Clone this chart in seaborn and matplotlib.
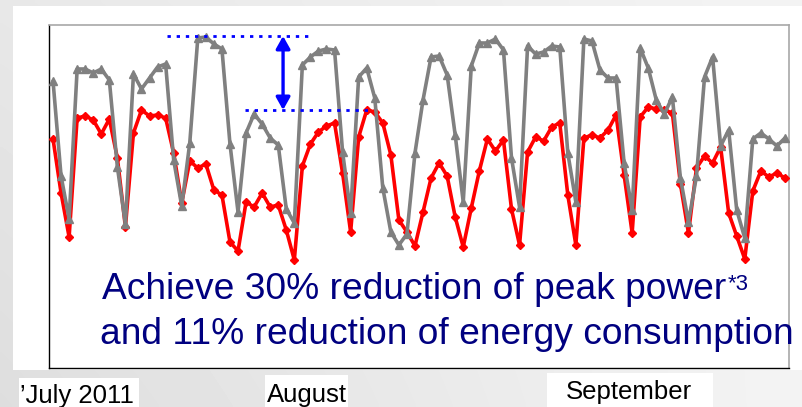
import numpy as np
import pandas as pd
import matplotlib
matplotlib.use("Agg")
import matplotlib.pyplot as plt
import seaborn as sns
from matplotlib.patches import Rectangle

# ---------------- data (relative power, arbitrary units) ----------------
days = list(range(92))  # 1 July 2011 .. 30 September 2011

power_2010 = [287, 192, 149, 299, 299, 295, 299, 288, 201, 144, 294, 279, 290, 301, 304, 208,
              162, 225, 330, 331, 324, 319, 224, 156, 235, 254, 244, 230, 223, 159, 145, 303,
              311, 317, 319, 318, 216, 155, 291, 300, 270, 180, 136, 123, 134, 215, 268, 311,
              312, 293, 233, 166, 302, 325, 325, 329, 318, 210, 161, 322, 314, 316, 322, 321,
              215, 166, 329, 327, 298, 290, 290, 205, 158, 320, 300, 268, 254, 271, 190, 146,
              192, 291, 311, 222, 238, 158, 130, 229, 235, 229, 222, 230]

power_2011 = [229, 175, 131, 250, 252, 248, 234, 249, 210, 141, 235, 258, 252, 253, 250, 215,
              165, 207, 200, 204, 178, 173, 126, 117, 166, 161, 175, 161, 163, 138, 108, 202,
              224, 236, 242, 245, 195, 136, 231, 258, 256, 245, 213, 148, 136, 122, 156, 190,
              205, 192, 151, 121, 160, 197, 229, 217, 228, 159, 123, 216, 231, 227, 241, 245,
              173, 123, 230, 233, 230, 238, 253, 193, 135, 251, 261, 259, 258, 255, 184, 135,
              200, 212, 205, 221, 155, 132, 109, 177, 197, 191, 195, 190]

month_labels = ["\u2019July 2011", "August", "September"]
peak_before = 332
peak_after = 258
text_line1 = "Achieve 30% reduction of peak power"
text_sup = "*3"
text_line2 = "and 11% reduction of energy consumption"

df = pd.DataFrame({"day": days, "before": power_2010, "after": power_2011})

# ---------------- figure ----------------
W, H = 803, 407
sns.set_theme(style="white")
plt.rcParams["font.family"] = ["Liberation Sans", "DejaVu Sans"]

fig = plt.figure(figsize=(W / 100, H / 100), dpi=100)

def fx(px):
    return px / W

def fy(py):
    return 1 - py / H

# gradient background
bg = fig.add_axes([0, 0, 1, 1], zorder=-10)
gx = np.linspace(0, 1, 200)[None, :]
gy = np.linspace(0, 1, 100)[:, None]
grad = 0.955 - 0.085 * (1 - gx) * (0.55 + 0.45 * gy)
bg.imshow(grad, cmap="gray", vmin=0, vmax=1, aspect="auto", extent=[0, 1, 1, 0],
          interpolation="bilinear")
bg.set_axis_off()

# white panel
fig.add_artist(Rectangle((fx(13), fy(370)), fx(803) - fx(13), fy(6) - fy(370),
                         transform=fig.transFigure, facecolor="white", edgecolor="none",
                         zorder=-5))

ax = fig.add_axes([fx(49), fy(368), fx(789) - fx(49), fy(25) - fy(368)], zorder=0)
ax.set_facecolor("white")

sns.lineplot(data=df, x="day", y="after", ax=ax, color="#ff0000", marker="D",
             markersize=4.2, markeredgecolor="#ff0000", markeredgewidth=1.0,
             linewidth=2.6, zorder=3)
sns.lineplot(data=df, x="day", y="before", ax=ax, color="#808080", marker="^",
             markersize=5.6, markeredgecolor="#808080", markeredgewidth=1.0,
             linewidth=2.6, zorder=4)

ax.set_xlim(-0.5, 91.5)
ax.set_ylim(0, 343)
ax.set_xticks([])
ax.set_yticks([])
ax.set_xlabel("")
ax.set_ylabel("")
for side in ["left", "bottom"]:
    ax.spines[side].set_color("black")
    ax.spines[side].set_linewidth(1.0)
for side in ["top", "right"]:
    ax.spines[side].set_color("#a8a8a8")
    ax.spines[side].set_linewidth(1.2)

# blue peak annotation
ax.plot([14.2, 32.1], [peak_before, peak_before], color="#0000ff", lw=2.0,
        linestyle=(0, (1.2, 2.1)), zorder=5)
ax.plot([23.9, 39.2], [peak_after, peak_after], color="#0000ff", lw=2.0,
        linestyle=(0, (1.2, 2.1)), zorder=5)
ax.annotate("", xy=(28.6, peak_before), xytext=(28.6, peak_after),
            arrowprops=dict(arrowstyle="<|-|>,head_length=0.75,head_width=0.42",
                            color="#0000ff", lw=2.4, mutation_scale=10,
                            shrinkA=0, shrinkB=0), zorder=6)

# main message text
navy = "#000080"
t1 = fig.text(fx(102), fy(299), text_line1, fontsize=26.7, color=navy,
              ha="left", va="baseline", zorder=10)
t2 = fig.text(fx(100), fy(344), text_line2, fontsize=26.7, color=navy,
              ha="left", va="baseline", zorder=10)
fig.canvas.draw()
bb = t1.get_window_extent(fig.canvas.get_renderer())
fig.text(fx(bb.x1 + 1), fy(290), text_sup, fontsize=16, color=navy,
         ha="left", va="baseline", zorder=10)

# month labels with white boxes
boxes = [(19, 378, 139, 407), (265, 375, 348, 407), (547, 373, 713, 407)]
label_pos = [(20, 403), (267, 402), (566, 399)]
for (x0, y0, x1, y1), (lx, ly), lab in zip(boxes, label_pos, month_labels):
    fig.add_artist(Rectangle((fx(x0), fy(y1)), fx(x1) - fx(x0), fy(y0) - fy(y1),
                             transform=fig.transFigure, facecolor="white",
                             edgecolor="none", zorder=8))
    fig.text(fx(lx), fy(ly), lab, fontsize=18.5, color="black", ha="left",
             va="baseline", zorder=10)

fig.savefig("out.png", dpi=100)
